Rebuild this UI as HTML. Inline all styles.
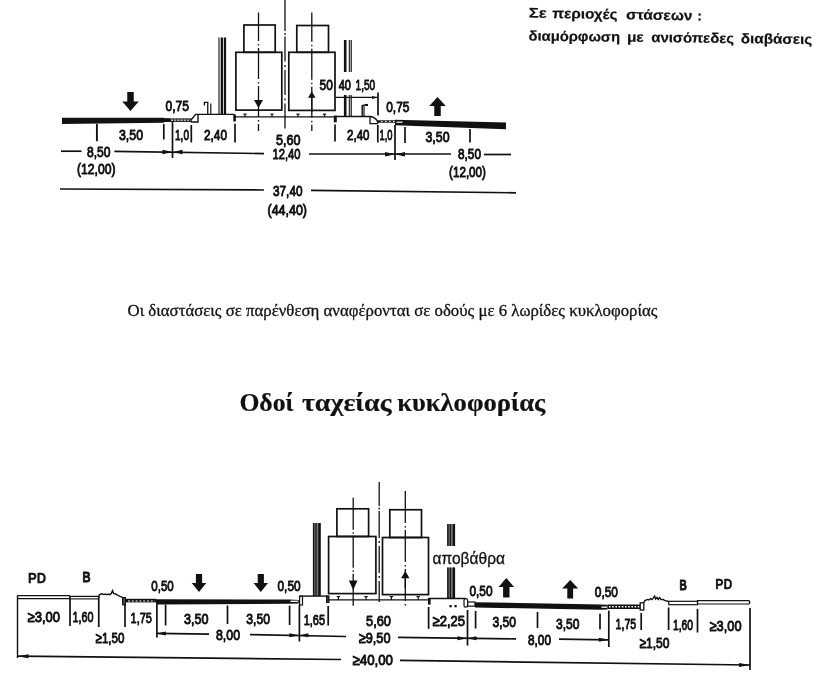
<!DOCTYPE html>
<html lang="el">
<head>
<meta charset="utf-8">
<title>Οδοί ταχείας κυκλοφορίας</title>
<style>
html,body{margin:0;padding:0;background:#fff;}
body{width:816px;height:681px;overflow:hidden;position:relative;}
svg{position:absolute;left:0;top:0;display:block;filter:blur(0.4px);}
text{fill:#111;stroke:#111;stroke-width:0.95px;paint-order:stroke;stroke-linejoin:round;}
.s{stroke-width:0.3px;}
.sb,.b{stroke-width:0.2px;}
.d{font-family:"Liberation Sans",sans-serif;}
.b{font-family:"Liberation Sans",sans-serif;font-weight:bold;}
.s{font-family:"Liberation Serif",serif;}
.sb{font-family:"Liberation Serif",serif;font-weight:bold;}
.pd{font-family:"Liberation Sans",sans-serif;font-weight:bold;stroke-width:0.3px;}
.g{font-family:"Liberation Sans",sans-serif;stroke-width:0.3px;}
.bb{font-family:"Liberation Sans",sans-serif;font-weight:bold;stroke-width:0.9px;}
</style>
</head>
<body>
<svg width="816" height="681" viewBox="0 0 816 681" stroke="#111" fill="none">

<!-- captions -->
<text class="b" y="17.6" font-size="14" transform="rotate(1.0 528.75 17.6)"><tspan x="528.75" textLength="17.75" lengthAdjust="spacingAndGlyphs">Σε</tspan> <tspan x="552.2" textLength="65.3" lengthAdjust="spacingAndGlyphs">περιοχές</tspan> <tspan x="626.1" textLength="66.3" lengthAdjust="spacingAndGlyphs">στάσεων</tspan> <tspan x="697.4">:</tspan></text>
<text class="b" y="40.5" font-size="14" transform="rotate(0.72 528.75 40.5)"><tspan x="528.5" textLength="91.5" lengthAdjust="spacingAndGlyphs">διαμόρφωση</tspan> <tspan x="626.9" textLength="16.8" lengthAdjust="spacingAndGlyphs">με</tspan> <tspan x="651.3" textLength="82.7" lengthAdjust="spacingAndGlyphs">ανισόπεδες</tspan> <tspan x="740.9" textLength="71.2" lengthAdjust="spacingAndGlyphs">διαβάσεις</tspan></text>
<text class="s" x="127.5" y="316" font-size="16.7" textLength="530.0" lengthAdjust="spacingAndGlyphs">Οι διαστάσεις σε παρένθεση αναφέρονται σε οδούς με 6 λωρίδες κυκλοφορίας</text>
<text class="sb" y="410.8" font-size="26"><tspan x="239.4" textLength="54.1" lengthAdjust="spacingAndGlyphs">Οδοί</tspan> <tspan x="301.9" textLength="89.6" lengthAdjust="spacingAndGlyphs">ταχείας</tspan> <tspan x="397.3" textLength="147.9" lengthAdjust="spacingAndGlyphs">κυκλοφορίας</tspan></text>
<!-- top cross-section -->
<line x1="285" y1="0" x2="285" y2="31" stroke-width="1.3" />
<line x1="285" y1="33" x2="285" y2="35" stroke-width="1.3" />
<line x1="285" y1="36.4" x2="285" y2="132" stroke-width="1.3" stroke-dasharray="25 3.5 2 3"/>
<line x1="258.5" y1="12.5" x2="258.5" y2="131" stroke-width="1.3" stroke-dasharray="31 3 1.5 2.5" stroke-dashoffset="2.5"/>
<line x1="311.8" y1="12.5" x2="311.8" y2="131" stroke-width="1.3" stroke-dasharray="31 3 1.5 2.5" stroke-dashoffset="1.8"/>
<line x1="311.8" y1="95" x2="311.8" y2="112" stroke-width="1.3" />
<rect x="235.9" y="52.3" width="45.9" height="57.8" fill="none" stroke-width="1.7"/>
<rect x="243.9" y="25" width="31.3" height="27.3" fill="none" stroke-width="1.7"/>
<rect x="288.8" y="52.3" width="46.2" height="58.1" fill="none" stroke-width="1.7"/>
<rect x="296.8" y="25.5" width="31.7" height="26.8" fill="none" stroke-width="1.7"/>
<path d="M258.5 108 L254.0 100 L263.0 100 Z" fill="#111" stroke="none"/>
<path d="M311.8 91.5 L308.0 97.8 L315.6 97.8 Z" fill="#111" stroke="none"/>
<line x1="219" y1="37.5" x2="219" y2="114.4" stroke-width="1.1" />
<line x1="221.9" y1="37.5" x2="221.9" y2="114.4" stroke-width="2.4" />
<line x1="225" y1="37.5" x2="225" y2="114.4" stroke-width="2.2" />
<line x1="345.2" y1="40" x2="345.2" y2="72" stroke-width="2.6" />
<line x1="349.3" y1="40" x2="349.3" y2="72" stroke-width="1.1" />
<line x1="351.2" y1="40" x2="351.2" y2="72" stroke-width="1.2" />
<line x1="345.2" y1="95" x2="345.2" y2="116.5" stroke-width="2.6" />
<line x1="349.3" y1="95" x2="349.3" y2="116.5" stroke-width="1.1" />
<line x1="351.2" y1="95" x2="351.2" y2="116.5" stroke-width="1.2" />
<path d="M62 117.7 L164 117.8 L164 122.8 L62 124 Z" fill="#111" stroke-width="0"/>
<line x1="164" y1="119" x2="191" y2="119" stroke-width="1.2" />
<line x1="164" y1="121.3" x2="191" y2="121.3" stroke-width="1.2" />
<line x1="170" y1="120.2" x2="191" y2="120.2" stroke-width="2.0" stroke-dasharray="1 2.2"/>
<rect x="164" y="118.4" width="6" height="3.6" fill="#111" stroke-width="0"/>
<path d="M191 120 L195.6 114.4 L234.5 114.4" fill="none" stroke-width="1.4"/>
<path d="M191 122 L198 122 L198 114.4" fill="none" stroke-width="1.4"/>
<line x1="191" y1="119.5" x2="191" y2="122" stroke-width="1.2" />
<line x1="234.6" y1="114.5" x2="234.6" y2="121.5" stroke-width="2.6" />
<path d="M207.75 114.4 L207.75 102.4 L204.4 102.4 L204.4 105.6" fill="none" stroke-width="1.3"/>
<line x1="210.8" y1="103.5" x2="210.8" y2="114.4" stroke-width="1.2" />
<line x1="234" y1="116.9" x2="335" y2="116.9" stroke-width="1.3" />
<line x1="243.4" y1="114.2" x2="246.6" y2="114.2" stroke-width="1.2" />
<line x1="245" y1="114.2" x2="245" y2="116.9" stroke-width="1.2" />
<line x1="270.4" y1="114.2" x2="273.6" y2="114.2" stroke-width="1.2" />
<line x1="272" y1="114.2" x2="272" y2="116.9" stroke-width="1.2" />
<line x1="296.4" y1="114.2" x2="299.6" y2="114.2" stroke-width="1.2" />
<line x1="298" y1="114.2" x2="298" y2="116.9" stroke-width="1.2" />
<line x1="322.9" y1="114.2" x2="326.1" y2="114.2" stroke-width="1.2" />
<line x1="324.5" y1="114.2" x2="324.5" y2="116.9" stroke-width="1.2" />
<line x1="335.5" y1="116.5" x2="370" y2="116.5" stroke-width="1.4" />
<line x1="335.3" y1="115.6" x2="335.3" y2="122.3" stroke-width="3.0" />
<path d="M370 116.5 Q375 117 377.6 121.3 M370 116.5 L370 123.7 L377.6 123.7 L377.6 121" stroke-width="1.3"/>
<path d="M362.2 116.5 L362.2 105.6 L367.5 104.4" fill="none" stroke-width="1.4"/>
<line x1="364" y1="106" x2="364" y2="116.5" stroke-width="1.2" />
<rect x="365" y="104" width="3" height="2" fill="#111" stroke-width="0"/>
<line x1="377.6" y1="121.5" x2="395" y2="121.5" stroke-width="2.4" />
<line x1="381" y1="121.5" x2="395" y2="121.5" stroke-width="1.1" stroke="#fff" stroke-dasharray="1.5 2.5"/>
<path d="M395 119.8 L506 122.6 L506 129.2 L395 125.2 Z" fill="#111" stroke-width="0"/>
<line x1="396.5" y1="122.2" x2="402.5" y2="122.2" stroke-width="1.2" stroke="#fff"/>
<path d="M127.25 92 L133.75 92 L133.75 101.5 L138.75 101.5 L130.5 111 L122.25 101.5 L127.25 101.5 Z" fill="#111" stroke="none"/>
<path d="M434.25 116 L440.75 116 L440.75 106 L445.75 106 L437.5 97 L429.25 106 L434.25 106 Z" fill="#111" stroke="none"/>
<line x1="96.9" y1="124" x2="96.9" y2="141.2" stroke-width="1.9" />
<line x1="163.8" y1="124" x2="163.8" y2="139.5" stroke-width="1.7" />
<line x1="172.5" y1="122" x2="172.5" y2="158" stroke-width="1.7" />
<line x1="191.3" y1="125" x2="191.3" y2="142.5" stroke-width="1.7" />
<line x1="235" y1="123.8" x2="235" y2="142.5" stroke-width="1.7" />
<line x1="335" y1="124.4" x2="335" y2="141.5" stroke-width="1.7" />
<line x1="378" y1="92.5" x2="378" y2="115.6" stroke-width="1.7" />
<line x1="377.8" y1="125" x2="377.8" y2="142.5" stroke-width="1.7" />
<line x1="395" y1="125" x2="395" y2="160" stroke-width="1.7" />
<line x1="405" y1="127" x2="405" y2="143" stroke-width="1.7" />
<line x1="470" y1="129" x2="470" y2="142.5" stroke-width="1.7" />
<line x1="335.5" y1="97.4" x2="378" y2="97.4" stroke-width="1.3" />
<path d="M378 97.4 L372 95.9 L372 98.9 Z" fill="#111" stroke="none"/>
<line x1="61" y1="151.2" x2="81.5" y2="151.2" stroke-width="1.7" />
<line x1="114.4" y1="151.3" x2="264" y2="153.6" stroke-width="1.7" />
<line x1="309" y1="154" x2="451" y2="154" stroke-width="1.7" />
<line x1="484" y1="154.5" x2="511" y2="154.5" stroke-width="1.7" />
<path d="M172.5 152 L162.5 149.7 L162.5 154.3 Z" fill="#111" stroke="none"/>
<path d="M172.5 152 L182.5 149.7 L182.5 154.3 Z" fill="#111" stroke="none"/>
<path d="M395 154.2 L385 151.9 L385 156.5 Z" fill="#111" stroke="none"/>
<path d="M395 154.2 L405 151.9 L405 156.5 Z" fill="#111" stroke="none"/>
<line x1="60" y1="189" x2="264" y2="190" stroke-width="1.7" />
<line x1="311" y1="190.3" x2="516" y2="192.8" stroke-width="1.7" />
<text class="d" x="165.5" y="110.5" font-size="15" textLength="23.5" lengthAdjust="spacingAndGlyphs">0,75</text>
<text class="d" x="119" y="139.5" font-size="15" textLength="24" lengthAdjust="spacingAndGlyphs">3,50</text>
<text class="d" x="175" y="139.5" font-size="15" textLength="14" lengthAdjust="spacingAndGlyphs">1,0</text>
<text class="d" x="204" y="139.5" font-size="15" textLength="23" lengthAdjust="spacingAndGlyphs">2,40</text>
<text class="d" x="87" y="157" font-size="15" textLength="23.5" lengthAdjust="spacingAndGlyphs">8,50</text>
<text class="d" x="77" y="174" font-size="15" textLength="38.5" lengthAdjust="spacingAndGlyphs">(12,00)</text>
<text class="d" x="319.5" y="90.2" font-size="15" textLength="13.3" lengthAdjust="spacingAndGlyphs">50</text>
<text class="d" x="338.75" y="90.2" font-size="15" textLength="12.25" lengthAdjust="spacingAndGlyphs">40</text>
<text class="d" x="355.6" y="90.2" font-size="15" textLength="19.6" lengthAdjust="spacingAndGlyphs">1,50</text>
<text class="d" x="386.25" y="112" font-size="15" textLength="23.15" lengthAdjust="spacingAndGlyphs">0,75</text>
<text class="d" x="276" y="144.6" font-size="15" textLength="24.5" lengthAdjust="spacingAndGlyphs">5,60</text>
<text class="d" x="272.5" y="159.3" font-size="15" textLength="28.0" lengthAdjust="spacingAndGlyphs">12,40</text>
<text class="d" x="347" y="140.4" font-size="15" textLength="22.5" lengthAdjust="spacingAndGlyphs">2,40</text>
<text class="d" x="379.5" y="140.4" font-size="15" textLength="13.0" lengthAdjust="spacingAndGlyphs">1,0</text>
<text class="d" x="425.5" y="142" font-size="15" textLength="24.0" lengthAdjust="spacingAndGlyphs">3,50</text>
<text class="d" x="458" y="159" font-size="15" textLength="23" lengthAdjust="spacingAndGlyphs">8,50</text>
<text class="d" x="449" y="177" font-size="15" textLength="37" lengthAdjust="spacingAndGlyphs">(12,00)</text>
<text class="d" x="273" y="196.4" font-size="15" textLength="29.5" lengthAdjust="spacingAndGlyphs">37,40</text>
<text class="d" x="267.5" y="215" font-size="15" textLength="39.5" lengthAdjust="spacingAndGlyphs">(44,40)</text>
<!-- bottom cross-section -->
<line x1="379.2" y1="482" x2="379.2" y2="506" stroke-width="1.3" />
<line x1="379.2" y1="507.6" x2="379.2" y2="509.4" stroke-width="1.3" />
<line x1="379.2" y1="511" x2="379.2" y2="602" stroke-width="1.3" stroke-dasharray="27 3 2 3"/>
<line x1="353.2" y1="497.8" x2="353.2" y2="608" stroke-width="1.3" stroke-dasharray="32 2.5 1.5 2"/>
<line x1="405.3" y1="491" x2="405.3" y2="607" stroke-width="1.3" stroke-dasharray="32 3 1.6 2.4"/>
<line x1="405.3" y1="576" x2="405.3" y2="588" stroke-width="1.3" />
<rect x="328.6" y="536.5" width="47.3" height="57.1" fill="none" stroke-width="1.7"/>
<rect x="336.9" y="508.8" width="31.7" height="27.7" fill="none" stroke-width="1.7"/>
<rect x="382.5" y="537.5" width="46.0" height="57.1" fill="none" stroke-width="1.7"/>
<rect x="389.8" y="509.75" width="31.7" height="27.75" fill="none" stroke-width="1.7"/>
<path d="M353.2 590 L348.9 580.5 L357.5 580.5 Z" fill="#111" stroke="none"/>
<path d="M405.3 571 L401.1 578.2 L409.5 578.2 Z" fill="#111" stroke="none"/>
<rect x="313" y="523" width="7.6" height="73" fill="#777" stroke-width="0"/>
<line x1="313.6" y1="523" x2="313.6" y2="596" stroke-width="1.4" />
<line x1="319.5" y1="523" x2="319.5" y2="596" stroke-width="2.4" />
<line x1="316.0" y1="523" x2="316.0" y2="596" stroke-width="1.2" />
<rect x="447.3" y="524" width="7.7" height="22" fill="#777" stroke-width="0"/>
<line x1="447.90000000000003" y1="524" x2="447.90000000000003" y2="546" stroke-width="1.4" />
<line x1="453.9" y1="524" x2="453.9" y2="546" stroke-width="2.4" />
<line x1="450.34999999999997" y1="524" x2="450.34999999999997" y2="546" stroke-width="1.2" />
<rect x="447.3" y="567.5" width="7.7" height="31.0" fill="#777" stroke-width="0"/>
<line x1="447.90000000000003" y1="567.5" x2="447.90000000000003" y2="598.5" stroke-width="1.4" />
<line x1="453.9" y1="567.5" x2="453.9" y2="598.5" stroke-width="2.4" />
<line x1="450.34999999999997" y1="567.5" x2="450.34999999999997" y2="598.5" stroke-width="1.2" />
<line x1="299.4" y1="596.1" x2="328.8" y2="596.1" stroke-width="1.4" />
<rect x="299.6" y="596.3" width="2.9" height="8.7" fill="none" stroke-width="1.2"/>
<rect x="326.6" y="596.2" width="2.3" height="6.2" fill="#444" stroke-width="1.2"/>
<line x1="329" y1="599.9" x2="429" y2="599.9" stroke-width="1.3" />
<line x1="336.7" y1="596.6" x2="340.09999999999997" y2="596.6" stroke-width="1.2" />
<line x1="338.4" y1="596.6" x2="338.4" y2="599.9" stroke-width="1.2" />
<line x1="364.3" y1="596.6" x2="367.7" y2="596.6" stroke-width="1.2" />
<line x1="366" y1="596.6" x2="366" y2="599.9" stroke-width="1.2" />
<line x1="389.7" y1="596.6" x2="393.09999999999997" y2="596.6" stroke-width="1.2" />
<line x1="391.4" y1="596.6" x2="391.4" y2="599.9" stroke-width="1.2" />
<line x1="416.5" y1="596.6" x2="419.9" y2="596.6" stroke-width="1.2" />
<line x1="418.2" y1="596.6" x2="418.2" y2="599.9" stroke-width="1.2" />
<line x1="428" y1="598.5" x2="465.5" y2="598.5" stroke-width="1.4" />
<rect x="428" y="598" width="2.6" height="6.6" fill="#111" stroke-width="0"/>
<rect x="464" y="598.6" width="3.6" height="8.6" rx="1.7" ry="1.7" stroke-width="1.2"/>
<rect x="449.4" y="605" width="2.3" height="2.3" fill="#111" stroke-width="0"/>
<rect x="454.4" y="605" width="2.3" height="2.3" fill="#111" stroke-width="0"/>
<line x1="17.5" y1="595.5" x2="17.5" y2="658" stroke-width="1.4" />
<line x1="17.5" y1="595.6" x2="70" y2="595.6" stroke-width="1.3" />
<line x1="17.5" y1="598.6" x2="70" y2="598.6" stroke-width="1.1" />
<line x1="70" y1="596.4" x2="98.75" y2="596.4" stroke-width="1.3" />
<line x1="70" y1="598.9" x2="98.75" y2="598.9" stroke-width="1.1" />
<path d="M98.75 596.5 L99.5 594.5 L102 593.8 L104 594.6 L105.5 594 L107 594.8 L108.5 594 L110 594.6 L111.2 593.6 L112.6 590.6 L113.6 593.4 L115.5 594 L117.5 595 L120 596.4 L123 597.6" fill="none" stroke-width="1.4"/>
<rect x="122.6" y="597.6" width="2.8" height="7.2" fill="#555" stroke-width="1.2"/>
<line x1="125.6" y1="600.6" x2="156.5" y2="600.6" stroke-width="3.6" />
<line x1="128" y1="601" x2="155" y2="601" stroke-width="1.2" stroke="#fff" stroke-dasharray="2 1.8"/>
<path d="M156 599.2 L289 599.5 L298.8 600 L298.8 603.5 L289 603.8 L156 604.4 Z" fill="#111" stroke-width="0"/>
<line x1="290.5" y1="601.3" x2="298" y2="601.3" stroke-width="1.3" stroke="#fff"/>
<rect x="467.6" y="602" width="7.4" height="4.2" fill="none" stroke-width="1.2"/>
<path d="M475 602.2 L601 604.4 L607.5 604.8 L607.5 609.4 L601 609.7 L475 607.5 Z" fill="#111" stroke-width="0"/>
<line x1="601.5" y1="607.2" x2="607" y2="607.2" stroke-width="1.3" stroke="#fff"/>
<line x1="607.5" y1="606.7" x2="640" y2="606.7" stroke-width="4.4" />
<line x1="609" y1="606.7" x2="639.5" y2="606.7" stroke-width="1.5" stroke="#fff" stroke-dasharray="1.6 1.6"/>
<rect x="640.2" y="602.8" width="3.6" height="7.2" fill="none" stroke-width="1.3"/>
<path d="M643.8 602.4 L645 600.6 L647.5 599.4 L649 600 L650.5 598.6 L652 599.6 L653.2 598.2 L654.6 596 L655.6 599 L657 597.4 L658.2 599.4 L659.6 597.6 L661 599.6 L663 599.4 L665 600.6 L667 601 L668.75 601.6" fill="none" stroke-width="1.4"/>
<rect x="668.75" y="601.3" width="28.75" height="3.4" fill="none" stroke-width="1.2"/>
<path d="M697.5 600.7 L749 600.7 Q750.6 602.3 749 604 L697.5 604 Z" stroke-width="1.2"/>
<path d="M195.9 574 L202.1 574 L202.1 583 L206.25 583 L199 592 L191.75 583 L195.9 583 Z" fill="#111" stroke="none"/>
<path d="M257.7 574 L263.9 574 L263.9 583 L268.05 583 L260.8 592 L253.55 583 L257.7 583 Z" fill="#111" stroke="none"/>
<path d="M503.1 597.5 L509.5 597.5 L509.5 587 L514.05 587 L506.3 578 L498.55 587 L503.1 587 Z" fill="#111" stroke="none"/>
<path d="M567.3 598.5 L573.1 598.5 L573.1 588.4 L578.2 588.4 L570.2 580 L562.2 588.4 L567.3 588.4 Z" fill="#111" stroke="none"/>
<line x1="70" y1="596" x2="70" y2="626" stroke-width="1.7" />
<line x1="98.75" y1="596" x2="98.75" y2="627" stroke-width="1.7" />
<line x1="125" y1="605" x2="125" y2="627" stroke-width="1.7" />
<line x1="156.9" y1="604" x2="156.9" y2="637.5" stroke-width="1.7" />
<line x1="165.6" y1="604.5" x2="165.6" y2="625.5" stroke-width="1.7" />
<line x1="227.5" y1="605.5" x2="227.5" y2="624" stroke-width="1.7" />
<line x1="289.6" y1="605.6" x2="289.6" y2="625" stroke-width="1.7" />
<line x1="299.4" y1="605" x2="299.4" y2="641.5" stroke-width="1.7" />
<line x1="328.2" y1="606" x2="328.2" y2="625.6" stroke-width="1.7" />
<line x1="428.6" y1="607" x2="428.6" y2="628.8" stroke-width="1.7" />
<line x1="467.5" y1="610" x2="467.5" y2="645.5" stroke-width="1.7" />
<line x1="475.6" y1="611" x2="475.6" y2="628.5" stroke-width="1.7" />
<line x1="537.5" y1="612" x2="537.5" y2="628" stroke-width="1.7" />
<line x1="600" y1="613.8" x2="600" y2="629.5" stroke-width="1.7" />
<line x1="608.8" y1="610.6" x2="608.8" y2="647" stroke-width="1.7" />
<line x1="641.2" y1="613" x2="641.2" y2="630" stroke-width="1.7" />
<line x1="668.6" y1="607.5" x2="668.6" y2="630" stroke-width="1.7" />
<line x1="697.5" y1="608.8" x2="697.5" y2="632.5" stroke-width="1.7" />
<line x1="750" y1="608" x2="750" y2="670" stroke-width="1.7" />
<line x1="156.9" y1="633.4" x2="209" y2="634.2" stroke-width="1.7" />
<line x1="250" y1="634.6" x2="346" y2="636.5" stroke-width="1.7" />
<line x1="398" y1="637.4" x2="516" y2="638.9" stroke-width="1.7" />
<line x1="559" y1="639.2" x2="608.8" y2="639.8" stroke-width="1.7" />
<path d="M156.9 633.4 L165.9 631.4 L165.9 635.4 Z" fill="#111" stroke="none"/>
<path d="M299.4 635.3 L289.4 633.3 L289.4 637.3 Z" fill="#111" stroke="none"/>
<path d="M299.4 635.3 L308.4 633.3 L308.4 637.3 Z" fill="#111" stroke="none"/>
<path d="M467.5 638.2 L457.5 636.2 L457.5 640.2 Z" fill="#111" stroke="none"/>
<path d="M467.5 638.2 L476.5 636.2 L476.5 640.2 Z" fill="#111" stroke="none"/>
<path d="M608.8 639.8 L598.8 637.8 L598.8 641.8 Z" fill="#111" stroke="none"/>
<line x1="17.5" y1="656.2" x2="341" y2="659.5" stroke-width="1.7" />
<line x1="400" y1="660.4" x2="750" y2="665" stroke-width="1.7" />
<path d="M17.5 656.2 L28.5 654.2 L28.5 658.2 Z" fill="#111" stroke="none"/>
<path d="M750 665 L739 663.0 L739 667.0 Z" fill="#111" stroke="none"/>
<text class="pd" x="28" y="582.5" font-size="15" textLength="18" lengthAdjust="spacingAndGlyphs">PD</text>
<text class="bb" x="82.5" y="582.3" font-size="15" textLength="8.0" lengthAdjust="spacingAndGlyphs">B</text>
<text class="d" x="151.25" y="591.2" font-size="15" textLength="22.5" lengthAdjust="spacingAndGlyphs">0,50</text>
<text class="d" x="27.5" y="622" font-size="15" textLength="32.5" lengthAdjust="spacingAndGlyphs">≥3,00</text>
<text class="d" x="72.5" y="622" font-size="15" textLength="21.0" lengthAdjust="spacingAndGlyphs">1,60</text>
<text class="d" x="95.6" y="642.6" font-size="15" textLength="28.8" lengthAdjust="spacingAndGlyphs">≥1,50</text>
<text class="d" x="130.6" y="622.8" font-size="15" textLength="21.3" lengthAdjust="spacingAndGlyphs">1,75</text>
<text class="d" x="184" y="623.6" font-size="15" textLength="24.5" lengthAdjust="spacingAndGlyphs">3,50</text>
<text class="d" x="246.25" y="623.6" font-size="15" textLength="23.75" lengthAdjust="spacingAndGlyphs">3,50</text>
<text class="d" x="277.5" y="591.2" font-size="15" textLength="23.1" lengthAdjust="spacingAndGlyphs">0,50</text>
<text class="d" x="303.75" y="624.6" font-size="15" textLength="21.25" lengthAdjust="spacingAndGlyphs">1,65</text>
<text class="d" x="216" y="640.3" font-size="15" textLength="24" lengthAdjust="spacingAndGlyphs">8,00</text>
<text class="d" x="366" y="625.5" font-size="15" textLength="25" lengthAdjust="spacingAndGlyphs">5,60</text>
<text class="d" x="432.5" y="626.4" font-size="15" textLength="32.5" lengthAdjust="spacingAndGlyphs">≥2,25</text>
<text class="d" x="358.75" y="642.6" font-size="15" textLength="31.75" lengthAdjust="spacingAndGlyphs">≥9,50</text>
<text class="d" x="352.5" y="664.8" font-size="15" textLength="40.5" lengthAdjust="spacingAndGlyphs">≥40,00</text>
<text class="g" x="432.5" y="563.5" font-size="16.5" textLength="72.5" lengthAdjust="spacingAndGlyphs">αποβάθρα</text>
<text class="d" x="469.4" y="596.4" font-size="15" textLength="23.1" lengthAdjust="spacingAndGlyphs">0,50</text>
<text class="d" x="492.5" y="627.2" font-size="15" textLength="23.5" lengthAdjust="spacingAndGlyphs">3,50</text>
<text class="d" x="556" y="628.6" font-size="15" textLength="23.4" lengthAdjust="spacingAndGlyphs">3,50</text>
<text class="d" x="528" y="645" font-size="15" textLength="23" lengthAdjust="spacingAndGlyphs">8,00</text>
<text class="d" x="594.75" y="596.8" font-size="15" textLength="23.25" lengthAdjust="spacingAndGlyphs">0,50</text>
<text class="d" x="615.6" y="628.6" font-size="15" textLength="20.65" lengthAdjust="spacingAndGlyphs">1,75</text>
<text class="d" x="639.5" y="647.6" font-size="15" textLength="30.0" lengthAdjust="spacingAndGlyphs">≥1,50</text>
<text class="d" x="673" y="630" font-size="15" textLength="20" lengthAdjust="spacingAndGlyphs">1,60</text>
<text class="d" x="709.6" y="630.5" font-size="15" textLength="31.9" lengthAdjust="spacingAndGlyphs">≥3,00</text>
<text class="bb" x="679.6" y="589.7" font-size="15" textLength="7.3" lengthAdjust="spacingAndGlyphs">B</text>
<text class="pd" x="715.25" y="589.4" font-size="15" textLength="17.0" lengthAdjust="spacingAndGlyphs">PD</text>
</svg>
</body>
</html>
